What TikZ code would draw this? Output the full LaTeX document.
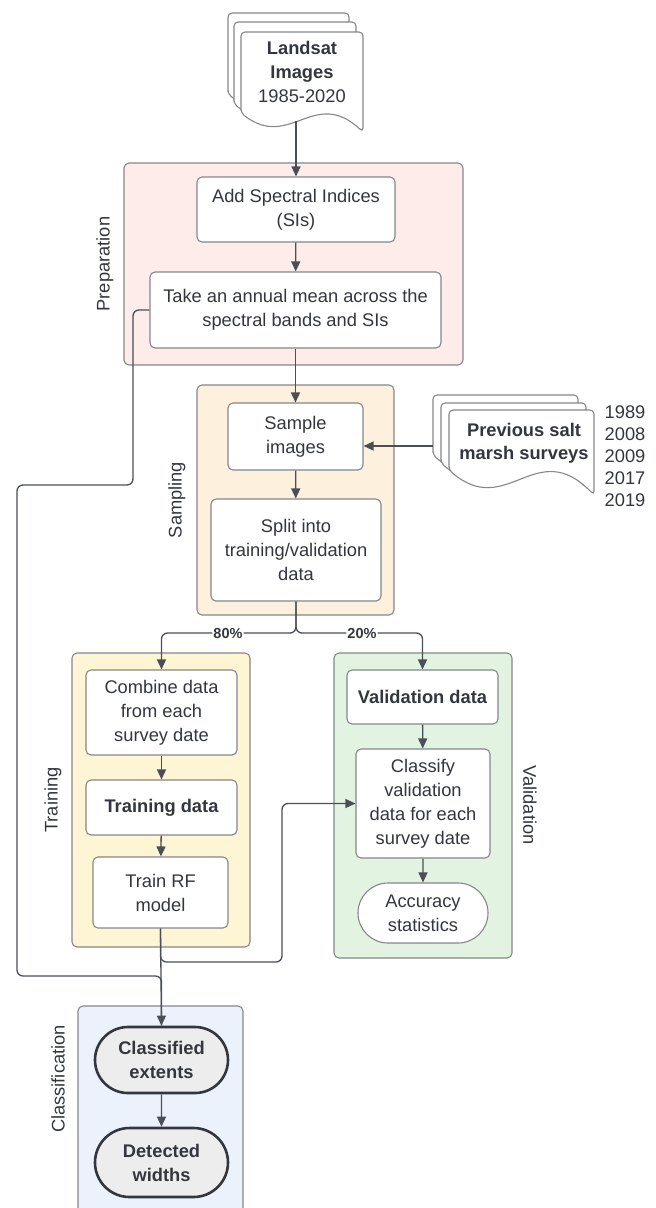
\documentclass[tikz,border=0pt]{standalone}
\usepackage{fontspec}
\setmainfont{Liberation Sans}
\usetikzlibrary{arrows.meta,shapes.misc}

\definecolor{txt}{HTML}{33373d}
\definecolor{edge}{HTML}{85878a}
\definecolor{conn}{HTML}{4a4f56}
\definecolor{prepfill}{HTML}{FDECEA}
\definecolor{sampfill}{HTML}{FDF0DD}
\definecolor{trainfill}{HTML}{FEF5D4}
\definecolor{valfill}{HTML}{E3F3E1}
\definecolor{classfill}{HTML}{EBF2FC}
\definecolor{termfill}{HTML}{EDEDEE}

% one sheet of a document stack: left, top, right, bottom, wave depth
\newcommand{\docsheet}[5]{%
  \filldraw[sheet] (#1,{#4-#5}) -- (#1,#2) -- (#3,#2) -- (#3,#4)
    .. controls ({#1+0.6*(#3-#1)},{#4-2.4*#5}) and ({#1+0.4*(#3-#1)},{#4+1.0*#5}) .. (#1,{#4-#5}) -- cycle;}

\begin{document}
\begin{tikzpicture}[x=1pt,y=-1pt,
  every node/.style = {text=txt},
  body/.style = {font=\fontsize{18.3}{24}\selectfont},
  proc/.style = {body, draw=edge, fill=white, line width=1.1pt, rounded corners=5pt, align=center, inner sep=2pt},
  stadium/.style = {body, draw=edge, fill=white, line width=1.1pt, rounded rectangle, align=center, inner sep=2pt},
  result/.style = {stadium, draw=txt, fill=termfill, line width=2.6pt, font=\fontsize{18.3}{24}\selectfont\bfseries},
  group/.style = {draw=edge, line width=1.1pt, rounded corners=5pt},
  grouplabel/.style = {font=\fontsize{18.3}{22}\selectfont},
  sheet/.style = {draw=edge, fill=white, line width=1.1pt, rounded corners=4pt},
  pct/.style = {fill=white, inner sep=1pt, font=\fontsize{14.5}{16}\selectfont\bfseries},
  link/.style = {draw=conn, line width=1.3pt, rounded corners=6pt},
  >={Triangle[length=10pt,width=9pt]}]
  \useasboundingbox (0,0) rectangle (656,1208);

  % stage boxes
  \draw[group, fill=prepfill]  (124,163) rectangle (463,365);
  \draw[group, fill=sampfill]  (197,385) rectangle (394,615);
  \draw[group, fill=trainfill] (72,653) rectangle (250,947);
  \draw[group, fill=valfill]   (334,653) rectangle (512,958);
  \draw[group, fill=classfill] (78,1006) rectangle (243,1225);
  \node[grouplabel, rotate=90]  (lprep)  at (105,264)  {Preparation};
  \node[grouplabel, rotate=90]  (lsamp)  at (177,500)  {Sampling};
  \node[grouplabel, rotate=90]  (ltrain) at (53,800)   {Training};
  \node[grouplabel, rotate=-90] (lval)   at (530,805)  {Validation};
  \node[grouplabel, rotate=90]  (lclass) at (58,1079)  {Classification};

  % input documents
  \docsheet{228}{13}{349}{113}{19}
  \docsheet{234}{22}{356}{123}{19}
  \docsheet{241}{32}{363}{132}{19}
  \node[body, align=center] (landsat) at (302,72) {\textbf{Landsat}\\\textbf{Images}\\1985-2020};
  \coordinate (lsfoot) at (296,121);

  \docsheet{433}{395}{578}{480}{25}
  \docsheet{441}{403}{586}{488}{25}
  \docsheet{449}{410}{594}{495}{25}
  \node[body, align=center, font=\fontsize{18.3}{23}\selectfont\bfseries] (survey) at (524,443) {Previous salt\\marsh surveys};
  \node[body, align=left, font=\fontsize{18.3}{22}\selectfont] (years) at (625,456) {1989\\2008\\2009\\2017\\2019};
  \coordinate (svfoot) at (433,446);

  % steps
  \node[proc, minimum width=198, minimum height=65] (add) at (296,209.5) {Add Spectral Indices\\(SIs)};
  \node[proc, minimum width=291, minimum height=76] (take) at (295.5,310) {Take an annual mean across the\\spectral bands and SIs};
  \node[proc, minimum width=135, minimum height=67] (sample) at (295.5,436.5) {Sample\\images};
  \node[proc, minimum width=170, minimum height=102] (split) at (296,550) {Split into\\training/validation\\data};
  \node[proc, minimum width=151, minimum height=85] (combine) at (161.5,712.5) {Combine data\\from each\\survey date};
  \node[proc, minimum width=151, minimum height=55, font=\fontsize{18.3}{24}\selectfont\bfseries] (trdata) at (161.5,807.5) {Training data};
  \node[proc, minimum width=135, minimum height=71] (rf) at (160.5,892.5) {Train RF\\model};
  \node[proc, minimum width=151, minimum height=54, font=\fontsize{18.3}{24}\selectfont\bfseries] (valdata) at (422.5,697) {Validation data};
  \node[proc, minimum width=134, minimum height=109] (classify) at (423,803.5) {Classify\\validation\\data for each\\survey date};
  \node[stadium, minimum width=134, minimum height=60] (accuracy) at (423,913) {Accuracy\\statistics};
  \node[result, minimum width=137, minimum height=66] (classified) at (161.5,1060) {Classified\\extents};
  \node[result, minimum width=137, minimum height=69] (detected) at (161.5,1162.5) {Detected\\widths};

  % split labels
  \node[pct] (p80) at (228,633) {80\%};
  \node[pct] (p20) at (362,633) {20\%};

  % bends
  \coordinate (loopa) at (133,485);
  \coordinate (loopb) at (17,976);
  \coordinate (bend) at (282,962);

  % connectors
  \draw[link, ->] (lsfoot) -- (add.north);
  \draw[link, ->] (add) -- (take);
  \draw[link, ->] (take) -- (sample);
  \draw[link, ->] (svfoot) -- (svfoot -| sample.east);
  \draw[link, ->] (sample) -- (split);
  \draw[link] (split.south) |- (p80);
  \draw[link, ->] (p80) -| (combine.north);
  \draw[link] (split.south) |- (p20);
  \draw[link, ->] (p20) -| (valdata.north);
  \draw[link, ->] (combine) -- (trdata);
  \draw[link, ->] (trdata) -- (rf);
  \draw[link, ->] (rf.south) |- (bend) |- (classify.west);
  \draw[link] (take.west) -| (loopa) -| (loopb) -| (classified.north);
  \draw[link, ->] (rf.south) -- (classified.north);
  \draw[link, ->] (valdata) -- (classify);
  \draw[link, ->] (classify) -- (accuracy);
  \draw[link, ->] (classified) -- (detected);
\end{tikzpicture}
\end{document}
